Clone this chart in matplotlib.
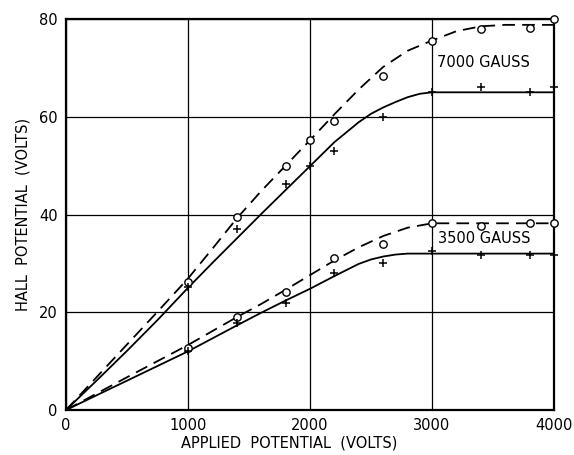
import matplotlib
matplotlib.use("Agg")
import matplotlib.pyplot as plt

# ---- data ----
x_hi = [1000, 1400, 1800, 2000, 2200, 2600, 3000, 3400, 3800, 4000]
g7000_circ = [26.2, 39.5, 50.0, 55.2, 59.1, 68.3, 75.5, 78.0, 78.2, 80.0]
g7000_cross = [25.2, 37.0, 46.2, 50.0, 53.0, 60.0, 65.1, 66.0, 65.0, 66.0]

x_lo = [1000, 1400, 1800, 2200, 2600, 3000, 3400, 3800, 4000]
g3500_circ = [12.6, 19.1, 24.1, 31.2, 34.0, 38.2, 37.7, 38.3, 38.3]
g3500_cross = [12.1, 17.7, 21.9, 28.0, 30.0, 32.5, 31.8, 31.8, 31.8]

# hand-drawn fit curves
cx_7000_solid = [0, 250, 500, 750, 1000, 1200, 1400, 1600, 1800, 2000, 2200,
                 2400, 2500, 2600, 2700, 2800, 2900, 3000, 3500, 4000]
cy_7000_solid = [0, 6.0, 12.1, 18.4, 25.0, 30.1, 35.1, 40.1, 45.0, 49.9, 54.8,
                 58.9, 60.6, 61.9, 63.0, 64.0, 64.7, 65.0, 65.0, 65.0]
cx_7000_dash = [0, 250, 500, 750, 1000, 1200, 1400, 1600, 1800, 2000, 2200,
                2400, 2600, 2800, 3000, 3200, 3400, 3600, 4000]
cy_7000_dash = [0, 6.7, 13.4, 20.1, 26.9, 33.0, 39.2, 44.8, 50.0, 55.2, 60.5,
                65.6, 70.2, 73.5, 75.6, 77.5, 78.5, 78.8, 78.8]

cx_3500_solid = [0, 500, 1000, 1400, 1600, 1800, 2000, 2200, 2400, 2500, 2600,
                 2700, 2800, 3000, 4000]
cy_3500_solid = [0, 6.0, 12.0, 17.3, 19.9, 22.4, 24.8, 27.4, 29.9, 30.8, 31.4,
                 31.8, 32.0, 32.0, 32.0]
cx_3500_dash = [0, 500, 1000, 1400, 1600, 1800, 2000, 2200, 2400, 2600, 2800,
                3000, 4000]
cy_3500_dash = [0, 6.7, 13.3, 19.0, 21.7, 24.6, 27.6, 30.6, 33.3, 35.6, 37.3,
                38.2, 38.2]

x_ticks = [0, 1000, 2000, 3000, 4000]
y_ticks = [0, 20, 40, 60, 80]
labels = ["7000 GAUSS", "3500 GAUSS"]

# ---- figure ----
fig = plt.figure(figsize=(5.74, 4.55), dpi=100)
ax = fig.add_axes([66/574, 45/455, 488/574, 391/455])

ax.set_xlim(0, 4000)
ax.set_ylim(0, 80)
ax.set_xticks(x_ticks)
ax.set_yticks(y_ticks)
ax.grid(True, color="black", linewidth=0.9)
ax.set_axisbelow(True)
for s in ax.spines.values():
    s.set_linewidth(1.6)
    s.set_color("black")
ax.tick_params(length=0, labelsize=10.5, pad=6)

dash = (0, (7, 4))
ax.plot(cx_7000_solid, cy_7000_solid, color="black", lw=1.3)
ax.plot(cx_7000_dash, cy_7000_dash, color="black", lw=1.3, linestyle=dash)
ax.plot(cx_3500_solid, cy_3500_solid, color="black", lw=1.3)
ax.plot(cx_3500_dash, cy_3500_dash, color="black", lw=1.3, linestyle=dash)

ax.plot(x_hi, g7000_circ, linestyle="none", marker="o", ms=5.3, mfc="white",
        mec="black", mew=1.0, clip_on=False, zorder=4)
ax.plot(x_hi, g7000_cross, linestyle="none", marker="+", ms=6, mec="black",
        mew=1.1, clip_on=False, zorder=4)
ax.plot(x_lo, g3500_circ, linestyle="none", marker="o", ms=5.3, mfc="white",
        mec="black", mew=1.0, clip_on=False, zorder=4)
ax.plot(x_lo, g3500_cross, linestyle="none", marker="+", ms=6, mec="black",
        mew=1.1, clip_on=False, zorder=4)

ax.text(3045, 71.0, labels[0], fontsize=10.5, va="center", ha="left",
        bbox=dict(facecolor="white", edgecolor="none", pad=1.5))
ax.text(3050, 35.0, labels[1], fontsize=10.5, va="center", ha="left",
        bbox=dict(facecolor="white", edgecolor="none", pad=1.5))

ax.set_xlabel("APPLIED  POTENTIAL  (VOLTS)", fontsize=10.5, va="center")
ax.set_ylabel("HALL  POTENTIAL  (VOLTS)", fontsize=10.5, va="center")
ax.xaxis.set_label_coords(0.457, -0.084)
ax.yaxis.set_label_coords(-0.088, 0.5)

fig.savefig("out.png", dpi=100, facecolor="white")
